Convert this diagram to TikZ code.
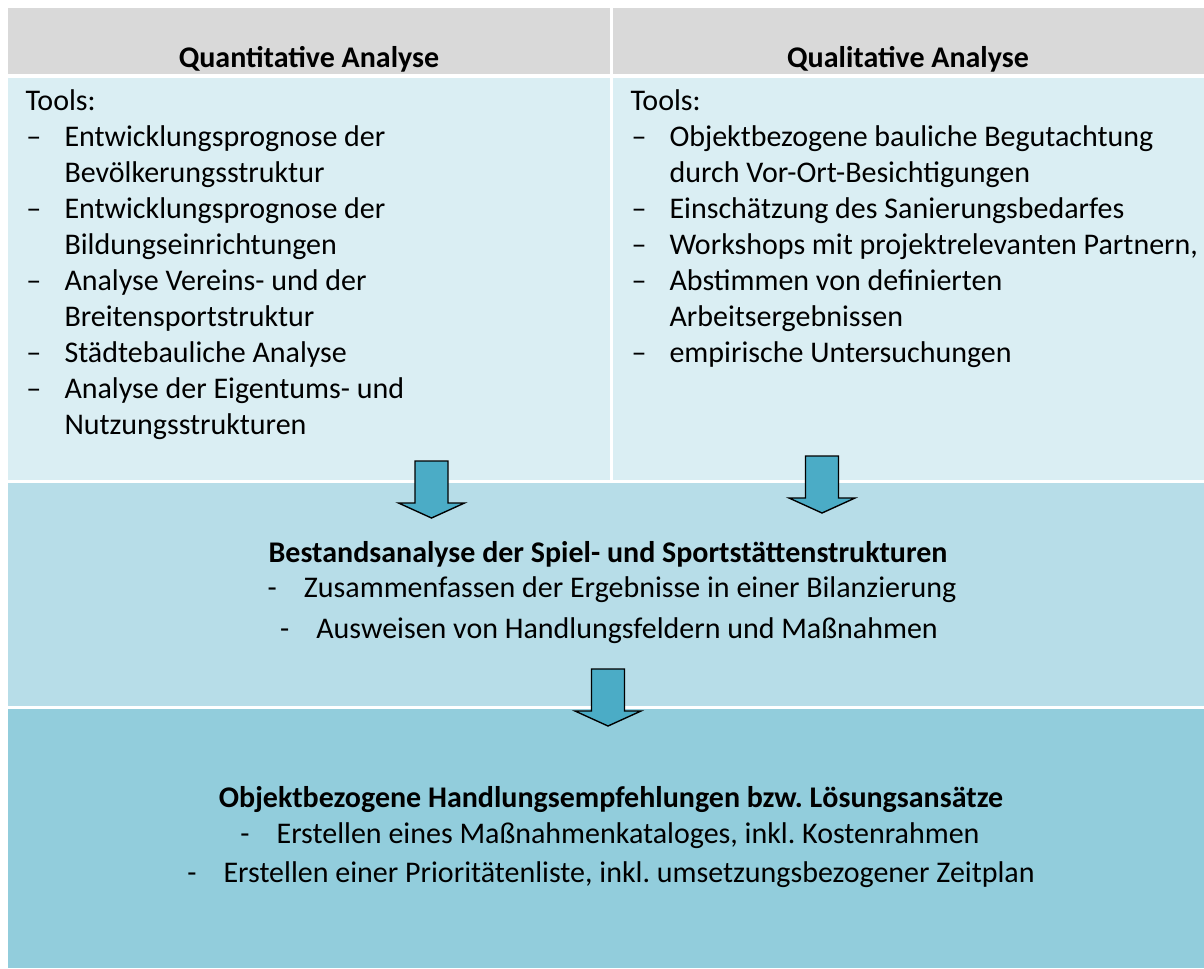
\documentclass[tikz,border=0pt]{standalone}
\usepackage{fontspec}
\setmainfont{Carlito}
\frenchspacing

\definecolor{kopfgrau}{HTML}{D9D9D9}
\definecolor{hellblau}{HTML}{DAEEF3}
\definecolor{mittelblau}{HTML}{B7DDE8}
\definecolor{dunkelblau}{HTML}{92CDDC}
\definecolor{pfeilblau}{HTML}{4BACC6}

\tikzset{
  zeile/.style={anchor=base west,inner sep=0pt,font=\fontsize{12}{14.4}\selectfont},
  titel/.style={anchor=base,inner sep=0pt,font=\fontsize{12}{14.4}\selectfont\bfseries},
  mitte/.style={anchor=base,inner sep=0pt,font=\fontsize{12}{14.4}\selectfont},
  pfeil/.style={draw=black,fill=pfeilblau,line width=0.55pt,line join=miter},
}

\begin{document}
\begin{tikzpicture}[x=0.4pt,y=-0.4pt]
\def\dy{36};%Zeilenabstand
\def\gap{10.8pt};%Abstand nach dem Strich
\useasboundingbox (0,0) rectangle (1204,968);

%Hintergruende
\fill[kopfgrau] (8,8) rectangle (610,74);
\fill[kopfgrau] (613,8) rectangle (1204,74);
\fill[hellblau] (8,78) rectangle (610,480);
\fill[hellblau] (613,78) rectangle (1204,480);
\fill[mittelblau] (8,483) rectangle (1204,706);
\fill[dunkelblau] (8,709) rectangle (1204,968);

%Kopfzeile
\node[titel] (quant) at (309,67) {Quantitative Analyse};
\node[titel] (qual) at (908,67) {Qualitative Analyse};

%Tools links
\node[zeile] (ql-0) at (25,110) {Tools:};
\foreach \z/\s/\txt in {1/1/Entwicklungsprognose der,2/0/Bevölkerungsstruktur,
    3/1/Entwicklungsprognose der,4/0/Bildungseinrichtungen,
    5/1/Analyse Vereins- und der,6/0/Breitensportstruktur,
    7/1/Städtebauliche Analyse,8/1/Analyse der Eigentums- und,9/0/Nutzungsstrukturen}{
    \node[zeile] (ql-\z) at (64,110+\z*\dy) {\txt};
    \ifnum\s=1 \node[zeile] (ql-s\z) at (26,110+\z*\dy) {\textendash};\fi
}

%Tools rechts
\node[zeile] (qr-0) at (630,110) {Tools:};
\foreach \z/\s/\txt in {1/1/Objektbezogene bauliche Begutachtung,2/0/durch Vor-Ort-Besichtigungen,
    3/1/Einschätzung des Sanierungsbedarfes,4/1/{Workshops mit projektrelevanten Partnern,},
    5/1/Abstimmen von definierten,6/0/Arbeitsergebnissen,7/1/empirische Untersuchungen}{
    \node[zeile] (qr-\z) at (669,110+\z*\dy) {\txt};
    \ifnum\s=1 \node[zeile] (qr-s\z) at (631,110+\z*\dy) {\textendash};\fi
}

%Bestandsanalyse
\node[titel] (bestand) at (608,562) {Bestandsanalyse der Spiel- und Sportstättenstrukturen};
\node[mitte] (bestand-1) at (612,597) {-\hspace{\gap}Zusammenfassen der Ergebnisse in einer Bilanzierung};
\node[mitte] (bestand-2) at (609,638) {-\hspace{\gap}Ausweisen von Handlungsfeldern und Maßnahmen};

%Handlungsempfehlungen
\node[titel] (empf) at (611,807) {Objektbezogene Handlungsempfehlungen bzw. Lösungsansätze};
\node[mitte] (empf-1) at (610,843) {-\hspace{\gap}Erstellen eines Maßnahmenkataloges, inkl. Kostenrahmen};
\node[mitte] (empf-2) at (611,882) {-\hspace{\gap}Erstellen einer Prioritätenliste, inkl. umsetzungsbezogener Zeitplan};

%Pfeile
\foreach \cx/\ty in {431.5/461,822/456,608/669}{
    \draw[pfeil] (\cx-16.5,\ty) -- (\cx+16.5,\ty) -- (\cx+16.5,\ty+42) -- (\cx+33,\ty+42)
        -- (\cx,\ty+57) -- (\cx-33,\ty+42) -- (\cx-16.5,\ty+42) -- cycle;
}
\end{tikzpicture}
\end{document}
